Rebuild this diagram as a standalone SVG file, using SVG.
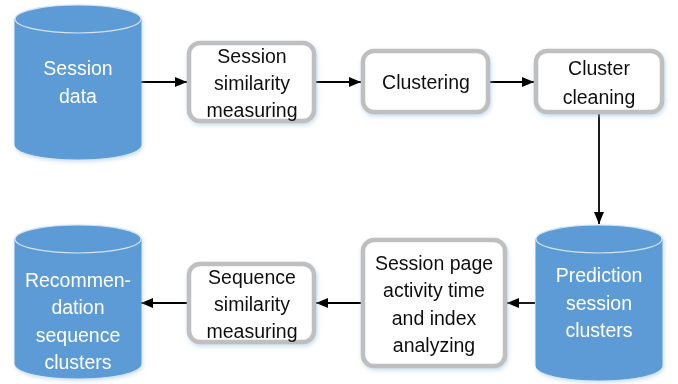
<svg xmlns="http://www.w3.org/2000/svg" width="678" height="384" viewBox="0 0 678 384">
<style>
.cyl{fill:#5B9BD5;stroke:#5B9BD5;stroke-width:1}
.rim{fill:#5B9BD5;stroke:#d6e4f2;stroke-width:1.2}
.box{fill:#ffffff;stroke:#BFBFBF;stroke-width:4.5}
.wt{font-family:"Liberation Sans",Arial,sans-serif;font-size:19.5px;fill:#ffffff;text-anchor:middle}
.bt{font-family:"Liberation Sans",Arial,sans-serif;font-size:19.5px;fill:#111111;text-anchor:middle}
.ln{stroke:#000;stroke-width:1.8;fill:none}
</style>
<defs>
<marker id="ah" viewBox="0 0 12 10" refX="12" refY="5" markerWidth="12" markerHeight="10" markerUnits="userSpaceOnUse" orient="auto">
<path d="M0,0 L12,5 L0,10 Z" fill="#000"/>
</marker>
<filter id="sh" x="-10%" y="-10%" width="125%" height="125%">
<feDropShadow dx="1" dy="2" stdDeviation="2" flood-color="#9dc3e6" flood-opacity="0.6"/>
</filter>
</defs>
<rect width="678" height="384" fill="#ffffff"/>
<g id="connectors">
<line class="ln" x1="141" y1="82" x2="187" y2="82" marker-end="url(#ah)"/>
<line class="ln" x1="316" y1="82" x2="361" y2="82" marker-end="url(#ah)"/>
<line class="ln" x1="489" y1="82" x2="534" y2="82" marker-end="url(#ah)"/>
<line class="ln" x1="599" y1="114" x2="599" y2="224" marker-end="url(#ah)"/>
<line class="ln" x1="535" y1="303" x2="507" y2="303" marker-end="url(#ah)"/>
<line class="ln" x1="361" y1="303" x2="316" y2="303" marker-end="url(#ah)"/>
<line class="ln" x1="187" y1="303" x2="141" y2="303" marker-end="url(#ah)"/>
</g>
<g id="session-data" filter="url(#sh)">
<path class="cyl" d="M15,19 L15,145 A63,14 0 0 0 141,145 L141,19 Z"/>
<ellipse class="rim" cx="78" cy="19" rx="63" ry="14"/>
<text class="wt" x="78" y="75">Session</text>
<text class="wt" x="78" y="103">data</text>
</g>
<g id="session-similarity" filter="url(#sh)">
<rect class="box" x="189" y="43" width="125" height="78" rx="11"/>
<text class="bt" x="252" y="63">Session</text>
<text class="bt" x="252" y="90">similarity</text>
<text class="bt" x="252" y="117">measuring</text>
</g>
<g id="clustering" filter="url(#sh)">
<rect class="box" x="363" y="51" width="125" height="61" rx="11"/>
<text class="bt" x="426" y="89">Clustering</text>
</g>
<g id="cluster-cleaning" filter="url(#sh)">
<rect class="box" x="536" y="51" width="126" height="61" rx="11"/>
<text class="bt" x="599" y="75">Cluster</text>
<text class="bt" x="599" y="104">cleaning</text>
</g>
<g id="prediction-clusters" filter="url(#sh)">
<path class="cyl" d="M536,239 L536,366 A63,14 0 0 0 662,366 L662,239 Z"/>
<ellipse class="rim" cx="599" cy="239" rx="63" ry="14"/>
<text class="wt" x="599" y="282">Prediction</text>
<text class="wt" x="599" y="310">session</text>
<text class="wt" x="599" y="337">clusters</text>
</g>
<g id="page-activity" filter="url(#sh)">
<rect class="box" x="363" y="240" width="142" height="126" rx="11"/>
<text class="bt" x="434" y="270">Session page</text>
<text class="bt" x="434" y="297">activity time</text>
<text class="bt" x="434" y="325">and index</text>
<text class="bt" x="434" y="352">analyzing</text>
</g>
<g id="sequence-similarity" filter="url(#sh)">
<rect class="box" x="189" y="264" width="125" height="78" rx="11"/>
<text class="bt" x="252" y="284">Sequence</text>
<text class="bt" x="252" y="311">similarity</text>
<text class="bt" x="252" y="338">measuring</text>
</g>
<g id="recommendation-clusters" filter="url(#sh)">
<path class="cyl" d="M15,239 L15,364 A63,14 0 0 0 141,364 L141,239 Z"/>
<ellipse class="rim" cx="78" cy="239" rx="63" ry="14"/>
<text class="wt" x="78" y="287">Recommen-</text>
<text class="wt" x="78" y="314">dation</text>
<text class="wt" x="78" y="342">sequence</text>
<text class="wt" x="78" y="369">clusters</text>
</g>
</svg>
